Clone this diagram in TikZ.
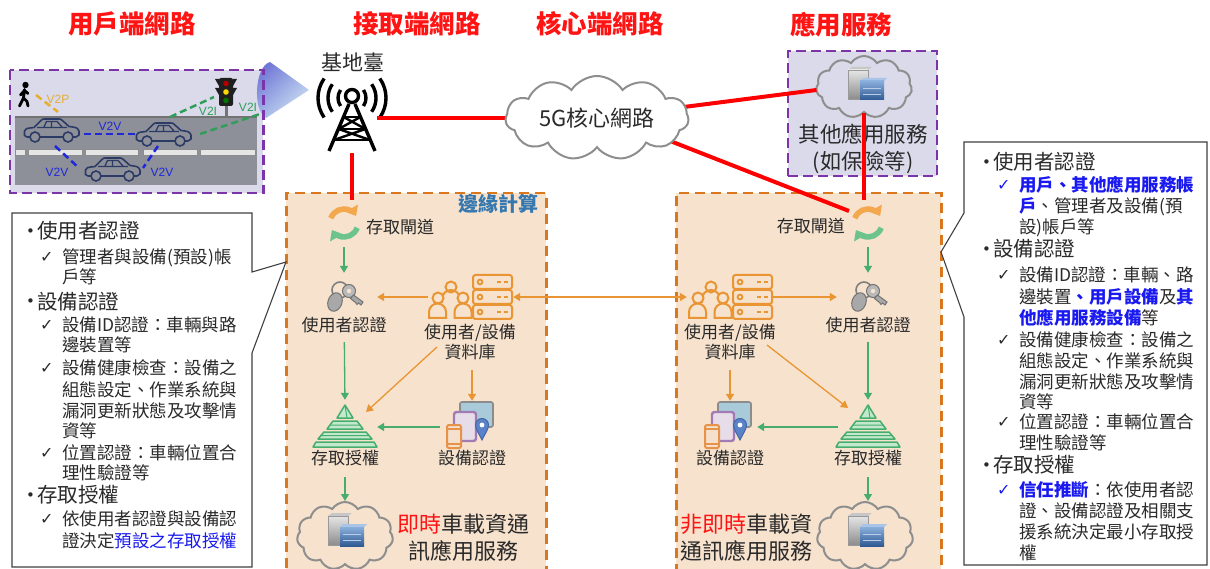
\documentclass[tikz,border=0pt]{standalone}
\usepackage{fontspec}
\setmainfont{Noto Sans CJK TC}
\newfontfamily\symfont{DejaVu Sans}
\newfontfamily\latinfont{Liberation Sans}
\usetikzlibrary{shapes.symbols,arrows.meta,calc,shadings}

\definecolor{titlered}{HTML}{FF1414}
\definecolor{purpleD}{HTML}{7B35A8}
\definecolor{lavender}{HTML}{DADAEB}
\definecolor{edgeO}{HTML}{D9781E}
\definecolor{peach}{HTML}{F6E2CD}
\definecolor{edgeBlue}{HTML}{3578B0}
\definecolor{roadgray}{HTML}{8E9099}
\definecolor{carnavy}{HTML}{2C3A66}
\definecolor{v2vblue}{HTML}{1E28D8}
\definecolor{v2igreen}{HTML}{2E9E58}
\definecolor{v2pyel}{HTML}{E6AE2E}
\definecolor{arrG}{HTML}{47AD6E}
\definecolor{arrO}{HTML}{E99533}
\definecolor{txtdark}{HTML}{2A2A2A}
\definecolor{hlblue}{HTML}{1A1AF0}
\definecolor{cloudgray}{HTML}{8E8E8E}
\definecolor{keygray}{HTML}{A8A8A8}
\definecolor{gwOr}{HTML}{F3A84E}
\definecolor{gwGr}{HTML}{6CC48C}
\definecolor{pyrL}{HTML}{C4E8CE}
\definecolor{pyrD}{HTML}{45AE6C}
\definecolor{beamA}{HTML}{5F5FCF}
\definecolor{beamB}{HTML}{9AAEE6}
\definecolor{beamC}{HTML}{E3F6F7}
\definecolor{devScreen}{HTML}{A9CAD8}
\definecolor{devTab}{HTML}{E6DDE8}
\definecolor{devTabE}{HTML}{A27BB5}
\definecolor{devPhone}{HTML}{F4E0CD}
\definecolor{devPhoneE}{HTML}{E69248}
\definecolor{pinF}{HTML}{5B82C9}
\definecolor{pinE}{HTML}{4267A8}
\definecolor{srvTop}{HTML}{A9C4E6}
\definecolor{srvHi}{HTML}{89AEDB}
\definecolor{srvLo}{HTML}{2F5A93}
\definecolor{srvLine}{HTML}{B8CCE8}

\tikzset{
  every node/.style={inner sep=0pt},
  ttl/.style={text=titlered, font=\fontsize{25.5}{25.5}\selectfont\bfseries},
  lbl/.style={text=txtdark, font=\fontsize{17}{20.5}\selectfont, align=center},
  biglbl/.style={text=txtdark, font=\fontsize{22}{27}\selectfont, align=center},
  icon/.style 2 args={inner sep=0pt, minimum width=#1pt, minimum height=#2pt},
  garrow/.style={draw=arrG, line width=1.3pt, -{Triangle[width=8pt,length=7pt]}},
  oarrow/.style={draw=arrO, line width=1.3pt, -{Triangle[width=8pt,length=7pt]}},
  redline/.style={draw=red, line width=4pt},
  edgebox/.style={draw=edgeO, fill=peach, line width=2.5pt, dash pattern=on 10pt off 6pt},
  scenefill/.style={fill=lavender},
  sceneborder/.style={draw=purpleD, line width=2.2pt, dash pattern=on 10pt off 5pt},
  appboxst/.style={draw=purpleD, fill=lavender, line width=2.2pt, dash pattern=on 10pt off 5pt},
  cloudnode/.style={cloud, cloud puffs=11, cloud puff arc=115, cloud ignores aspect, draw=cloudgray, line width=2pt},
  note/.style={draw=black!75, fill=white, line width=1.1pt},
  notehd/.style={anchor=west, text=txtdark, font=\fontsize{20.5}{20.5}\selectfont, text height=17pt, text depth=3pt},
  noteln/.style={anchor=west, text=txtdark, font=\fontsize{17.5}{17.5}\selectfont, text height=14.5pt, text depth=2pt},
  vlink/.style={line width=2.5pt, dash pattern=on 7pt off 4pt},
  vlbl/.style={font=\latinfont\fontsize{12}{12}\selectfont},
  % ---------- icons ----------
  vehicle/.pic={
    \draw[carnavy, line width=1.6pt, line join=round, line cap=round]
      (7,5) -- (4,5) -- (1.5,6.5) -- (1.5,11) .. controls (2.5,13.5) .. (11,14.5) -- (18,21.5)
      .. controls (19.5,23) .. (23,23) -- (34,23) .. controls (38,23) .. (40.5,20.5) -- (46,15.5)
      .. controls (54,14.5) .. (56,11) -- (56,7) -- (53,5) -- (50,5);
    \draw[carnavy, line width=1.6pt] (17,5) -- (40,5) (12,5) circle (5) (45,5) circle (5);
    \draw[carnavy, line width=1.3pt] (14,14.5) -- (44,14.5)
      (21,15) -- (23.5,20.5) -- (34,20.5) -- (39,15) (28.5,20.5) -- (28.5,14.5);
  },
  walker/.pic={
    \fill[black] (1.5,10) circle (3.2);
    \draw[black, line width=2.8pt, line cap=round, line join=round]
      (0.5,5.5) -- (-0.5,-3) -- (-4.5,-11) (-0.5,-3) -- (3,-6.5) -- (4,-11)
      (0.5,4.5) -- (-3.5,0) (0.5,4.5) -- (4,1.5);
  },
  signal/.pic={
    \fill[black!55] (-1.5,-14) rectangle (1.5,-25);
    \fill[black!88] (-11,13) -- (-7,13) -- (-7,6) -- cycle;
    \fill[black!88] (-11,4) -- (-7,4) -- (-7,-3) -- cycle;
    \fill[black!88] (11,13) -- (7,13) -- (7,6) -- cycle;
    \fill[black!88] (11,4) -- (7,4) -- (7,-3) -- cycle;
    \fill[black!88, rounded corners=2pt] (-7,-14) rectangle (7,14);
    \fill[red!70!black] (0,8.5) circle (2.8);
    \fill[yellow!75!orange] (0,0) circle (2.8);
    \fill[green!45!black] (0,-8.5) circle (2.8);
  },
  antennaicon/.pic={
    \foreach \r in {14,24,34}{
      \draw[black, line width=3.4pt] ([shift={(35:\r)}]0,17) arc[start angle=35,end angle=-35,radius=\r];
      \draw[black, line width=3.4pt] ([shift={(145:\r)}]0,17) arc[start angle=145,end angle=215,radius=\r];
    }
    \draw[black, line width=3.4pt] (0,19) circle (6.5);
    \draw[black, line width=3.4pt] (-23,-36) -- (-3,11) (23,-36) -- (3,11);
    \draw[black, line width=2.8pt] (-8.4,-2) -- (8.4,-2) (-13.4,-14) -- (13.4,-14) (-18,-25) -- (18,-25);
    \draw[black, line width=2.4pt] (-8.4,-2) -- (13.4,-14) (8.4,-2) -- (-13.4,-14)
      (-13.4,-14) -- (18,-25) (13.4,-14) -- (-18,-25);
  },
  gatewayicon/.pic={
    \draw[gwOr, line width=5.5pt, -{Triangle[width=14pt,length=9pt]}] (160:14) arc[start angle=160,end angle=30,radius=14];
    \draw[gwGr, line width=5.5pt, -{Triangle[width=14pt,length=9pt]}] (-20:14) arc[start angle=-20,end angle=-150,radius=14];
  },
  keyicon/.pic={
    \draw[black!50, line width=1.6pt] (-4,5) circle (8);
    \filldraw[fill=keygray, draw=black!55, line width=1pt, rotate around={-20:(-9,-7)}] (-9,-7) ellipse (7 and 9.5);
    \filldraw[fill=keygray!80, draw=black!55, line width=1pt] (5,4) circle (6.5);
    \fill[peach] (5,4) circle (2.2);
    \filldraw[fill=keygray, draw=black!55, line width=1pt] (9.5,0) -- (19,-7) -- (17,-10) -- (14.5,-8)
      -- (13,-9.5) -- (11.5,-7.5) -- (6.5,-3.5) -- cycle;
  },
  dbicon/.pic={
    \foreach \yy in {15,0,-15}{
      \draw[arrO, line width=2pt, rounded corners=2.5pt] (3,\yy-7) rectangle (42,\yy+7);
      \draw[arrO, line width=1.8pt] (10,\yy) circle (2.4);
      \draw[arrO, line width=2pt] (27,\yy) -- (31,\yy) (34,\yy) -- (38,\yy);
    }
    \draw[arrO, line width=2pt] (-19,10) circle (5.5);
    \draw[arrO, line width=2pt] (-28,-6) -- (-28,-2) arc[start angle=180,end angle=0,radius=9] -- (-10,-6);
    \filldraw[draw=arrO, fill=peach, line width=2pt] (-32,-1) circle (5.5);
    \filldraw[draw=arrO, fill=peach, line width=2pt] (-41,-21) -- (-41,-15) arc[start angle=180,end angle=0,radius=8.5] -- (-24,-21) -- cycle;
    \filldraw[draw=arrO, fill=peach, line width=2pt] (-7,-1) circle (5.5);
    \filldraw[draw=arrO, fill=peach, line width=2pt] (-15.5,-21) -- (-15.5,-15) arc[start angle=180,end angle=0,radius=8.5] -- (1.5,-21) -- cycle;
  },
  pyramidicon/.pic={
    \filldraw[draw=pyrD, fill=pyrL, line width=1.5pt, line join=round] (0,21) -- (-8,8) -- (8,8) -- cycle;
    \filldraw[draw=pyrD, fill=pyrL, line width=1.5pt, line join=round] (-12,5) -- (12,5) -- (18,-3) -- (-18,-3) -- cycle;
    \filldraw[draw=pyrD, fill=pyrL, line width=1.5pt, line join=round] (-21,-6) -- (21,-6) -- (27,-13) -- (-27,-13) -- cycle;
    \filldraw[draw=pyrD, fill=pyrL, line width=1.5pt, line join=round] (-29,-16) -- (29,-16) -- (32,-21) -- (-32,-21) -- cycle;
    \draw[pyrD, line width=1pt] (0,21) -- (2,8) (-15,1) -- (15,1) (-24,-9.5) -- (24,-9.5);
  },
  deviceicon/.pic={
    \filldraw[fill=devScreen, draw=black!45, line width=1.6pt, rounded corners=2pt] (-12,-3) rectangle (21,22);
    \filldraw[fill=devTab, draw=devTabE, line width=2.4pt, rounded corners=2.5pt] (-18,-17) rectangle (4,12);
    \filldraw[fill=devPhone, draw=devPhoneE, line width=2pt, rounded corners=2pt] (-25,-24) rectangle (-11,-1);
    \draw[devPhoneE, line width=1.2pt] (-25,-5) -- (-11,-5) (-25,-20) -- (-11,-20);
    \filldraw[fill=pinF, draw=pinE, line width=1pt]
      (10,-16) .. controls (6,-8) and (3.5,-5) .. (3.5,-1) arc[start angle=180,end angle=0,radius=6.5]
      .. controls (16.5,-5) and (14,-8) .. (10,-16) -- cycle;
    \fill[white] (10,-1) circle (2.4);
  },
  servericon/.pic={
    \fill[black!22] (-18,15) -- (-14,18) -- (6,18) -- (2,15) -- cycle;
    \shade[top color=black!10, bottom color=black!45] (-18,-14) rectangle (2,15);
    \draw[black!40, line width=0.6pt] (-18,-14) rectangle (2,15);
    \fill[srvTop] (-6,4) -- (-3,7) -- (21,7) -- (18,4) -- cycle;
    \shade[top color=srvHi, bottom color=srvLo] (-6,-15) rectangle (18,4);
    \draw[srvLine, line width=0.8pt] (-3,-3) -- (15,-3) (-3,-9) -- (15,-9);
  },
}

\newcommand\notehead[4]{\node[notehd] (#1) at (#2,-#3) {\makebox[11pt][l]{\raisebox{2pt}{\symfont\fontsize{15}{15}\selectfont •}}#4};}
\newcommand\notecheck[4]{\node[noteln] (#1) at (#2,-#3) {\makebox[22pt][l]{\raisebox{0.5pt}{\symfont\fontsize{16}{16}\selectfont ✓}}#4};}
\newcommand\notecheckb[4]{\node[noteln] (#1) at (#2,-#3) {\makebox[22pt][l]{\raisebox{0.5pt}{\color{hlblue}\symfont\fontsize{16}{16}\selectfont ✓}}#4};}
\newcommand\notecont[4]{\node[noteln] (#1) at (#2,-#3) {#4};}
\newcommand\hl[1]{{\color{hlblue}\bfseries #1}}

\begin{document}
\begin{tikzpicture}[x=1pt,y=1pt]
\useasboundingbox (0,0) rectangle (1210,-569);
\clip (0,0) rectangle (1210,-569);

% ---------- user network scene ----------
\node[scenefill, anchor=north west, minimum width=253pt, minimum height=123pt] (scene) at (10,-70) {};
\shade[upper left=beamA, upper right=beamB, lower left=beamB, lower right=beamC]
  (309,-90) -- (270,-62) .. controls (255,-66) and (252,-110) .. (266,-118) -- cycle;
\fill[roadgray] (15,-117) rectangle (257,-185);
\draw[black!55, line width=1.5pt] (15,-117) -- (257,-117);
\foreach \a/\b in {15/25,28/82,85/138,143/197,200/255}
  \filldraw[fill=white!90!black, draw=black!45, line width=0.6pt] (\a,-149) rectangle (\b,-155);
\pic at (23,-142) {vehicle};
\pic at (135,-146) {vehicle};
\pic at (84,-181) {vehicle};
\pic at (226,-92) {signal};
\pic at (24,-95) {walker};
\draw[vlink, v2vblue] (84,-134) -- (135,-134);
\draw[vlink, v2vblue] (55,-146) -- (79,-168);
\draw[vlink, v2vblue] (158,-146) -- (143,-168);
\draw[vlink, v2igreen] (170,-117) -- (214,-97);
\draw[vlink, v2igreen] (200,-134) -- (263,-113);
\draw[vlink, v2pyel] (36,-95) -- (58,-112);
\node[vlbl, text=v2pyel] (lv2p) at (58,-99) {V2P};
\node[vlbl, text=v2vblue] (lv2va) at (110,-126) {V2V};
\node[vlbl, text=v2vblue] (lv2vb) at (57,-172) {V2V};
\node[vlbl, text=v2vblue] (lv2vc) at (162,-172) {V2V};
\node[vlbl, text=v2igreen] (lv2ia) at (208,-111) {V2I};
\node[vlbl, text=v2igreen] (lv2ib) at (248,-107) {V2I};
\draw[sceneborder] (scene.north west) rectangle (scene.south east);

% ---------- section titles ----------
\node[ttl] (t1) at (132,-24) {用戶端網路};
\node[ttl] (t2) at (417,-24) {接取端網路};
\node[ttl] (t3) at (600,-24) {核心端網路};
\node[ttl] (t4) at (841,-25) {應用服務};

% ---------- edge computing areas ----------
\node[edgebox, anchor=north west, minimum width=260pt, minimum height=395pt] (edgeL) at (285,-192) {};
\node[edgebox, anchor=north west, minimum width=265pt, minimum height=395pt] (edgeR) at (675,-192) {};
\node[text=edgeBlue, font=\fontsize{20}{20}\selectfont\bfseries] (edgeT) at (498,-204) {邊緣計算};

% ---------- application service ----------
\node[appboxst, anchor=north west, minimum width=149pt, minimum height=125pt] (appbox) at (787,-50) {};
\node[cloudnode, minimum width=96pt, minimum height=62pt] (appc) at (864,-87) {};
\pic at (866,-85) {servericon};
\node[biglbl, font=\fontsize{21.5}{27}\selectfont] (appt) at (863,-149) {其他應用服務\\(如保險等)};

% ---------- base station and core ----------
\node[text=txtdark, font=\fontsize{21}{21}\selectfont] (bst) at (353,-62) {基地臺};
\node[icon={76}{76}] (bs) at (352,-115) {};
\pic at (bs) {antennaicon};
\draw[redline] ($(bs.center)+(25,-3)$) -- (597,-118);
\draw[redline] (637,-113) -- ($(appc.west)+(1,-3)$);
\node[icon={40}{40}] (gwR) at (868,-223) {};
\draw[redline] (637,-128) -- ($(gwR)+(-19,12)$);
\node[cloudnode, fill=white, minimum width=183pt, minimum height=84pt, font=\fontsize{22}{22}\selectfont, text=txtdark] (core) at (597,-118) {5G核心網路};

% ---------- left edge node contents ----------
\node[icon={40}{40}] (gwL) at (344,-223) {};
\pic at (gwL) {gatewayicon};
\node[lbl, anchor=west] (gwLt) at (366,-227) {存取閘道};
\node[icon={40}{36}] (uaL) at (344,-295) {};
\pic at (uaL) {keyicon};
\node[lbl] (uaLt) at (344,-325) {使用者認證};
\node[icon={82}{46}] (dbL) at (470,-297) {};
\pic at (dbL) {dbicon};
\node[lbl] (dbLt) at (470,-342) {使用者/設備\\資料庫};
\node[icon={62}{46}] (azL) at (345,-426) {};
\pic at (azL) {pyramidicon};
\node[lbl] (azLt) at (345,-458) {存取授權};
\node[icon={52}{46}] (daL) at (472,-424) {};
\pic at (daL) {deviceicon};
\node[lbl] (daLt) at (472,-458) {設備認證};
\node[cloudnode, minimum width=96pt, minimum height=68pt] (svL) at (345,-536) {};
\pic at (346,-531) {servericon};
\node[biglbl] (rtL) at (463,-538) {{\color{titlered}即時}車載資通\\訊應用服務};

% ---------- right edge node contents ----------
\pic at (gwR) {gatewayicon};
\node[lbl, anchor=east] (gwRt) at (845,-226) {存取閘道};
\node[icon={40}{36}] (uaR) at (868,-295) {};
\pic at (uaR) {keyicon};
\node[lbl] (uaRt) at (868,-325) {使用者認證};
\node[icon={82}{46}] (dbR) at (730,-297) {};
\pic at (dbR) {dbicon};
\node[lbl] (dbRt) at (730,-342) {使用者/設備\\資料庫};
\node[icon={62}{46}] (azR) at (868,-426) {};
\pic at (azR) {pyramidicon};
\node[lbl] (azRt) at (868,-458) {存取授權};
\node[icon={52}{46}] (daR) at (730,-424) {};
\pic at (daR) {deviceicon};
\node[lbl] (daRt) at (730,-458) {設備認證};
\node[cloudnode, minimum width=96pt, minimum height=68pt] (svR) at (865,-536) {};
\pic at (866,-531) {servericon};
\node[biglbl] (rtR) at (746,-538) {{\color{titlered}非即時}車載資\\通訊應用服務};

% ---------- flows, left ----------
\draw[garrow, shorten <=4pt, shorten >=4pt] (gwL.south) -- (uaL.north);
\draw[oarrow, shorten <=1pt, shorten >=13pt] (dbL.west) -- (uaL.east |- dbL.west);
\draw[oarrow, {Triangle[width=8pt,length=7pt]}-{Triangle[width=8pt,length=7pt]}, shorten <=2pt, shorten >=2pt] (dbL.east) -- (dbR.west);
\draw[garrow, shorten <=29pt, shorten >=3pt] (uaL.south) -- (azL.north);
\draw[oarrow] ($(dbL)+(-33,-50)$) -- ($(azL)+(21,14)$);
\draw[oarrow] ($(dbL.south)+(2,-50)$) -- (daL.north);
\draw[garrow] ($(daL.west)+(-6,-3)$) -- ($(azL.east)+(1,-1)$);
\draw[garrow, shorten <=28pt] (azL.south) -- (azL.south |- svL.north);

% ---------- flows, right ----------
\draw[garrow, shorten <=4pt, shorten >=4pt] (gwR.south) -- (uaR.north);
\draw[oarrow, shorten <=2pt, shorten >=11pt] (dbR.east) -- (uaR.west |- dbR.east);
\draw[garrow, shorten <=29pt, shorten >=3pt] (uaR.south) -- (azR.north);
\draw[oarrow] ($(dbR)+(37,-48)$) -- ($(azR)+(-20,18)$);
\draw[oarrow] ($(dbR.south)+(0,-50)$) -- (daR.north);
\draw[garrow] ($(azR.west)+(1,-1)$) -- ($(daR.east)+(1,-3)$);
\draw[garrow, shorten <=28pt] (azR.south) -- (azR.south |- svR.north);

% ---------- access links ----------
\draw[redline] (bs.south) -- ($(bs.south |- gwL.north)+(0,3)$);
\draw[redline] (appc.south) -- ($(appc.south |- gwR.north)+(0,3)$);

% ---------- left note ----------
\draw[note] (12,-213) -- (252,-213) -- (252,-272) -- (286,-262) -- (252,-353) -- (252,-567) -- (12,-567) -- cycle;
\notehead{la1}{26}{232}{使用者認證}
\notecheck{la2}{40}{257}{管理者與設備(預設)帳}
\notecont{la3}{62}{277}{戶等}
\notehead{la4}{26}{302}{設備認證}
\notecheck{la5}{40}{325}{設備ID認證：車輛與路}
\notecont{la6}{62}{345}{邊裝置等}
\notecheck{la7}{40}{368}{設備健康檢查：設備之}
\notecont{la8}{62}{390}{組態設定、作業系統與}
\notecont{la9}{62}{411}{漏洞更新狀態及攻擊情}
\notecont{la10}{62}{431}{資等}
\notecheck{la11}{40}{453}{位置認證：車輛位置合}
\notecont{la12}{62}{473}{理性驗證等}
\notehead{la13}{26}{495}{存取授權}
\notecheck{la14}{40}{519}{依使用者認證與設備認}
\notecont{la15}{62}{541}{證決定{\color{hlblue}預設之存取授權}}

% ---------- right note ----------
\draw[note] (964,-142) -- (1207,-142) -- (1207,-565) -- (964,-565) -- (964,-317) -- (941,-252) -- (964,-213) -- cycle;
\notehead{ra1}{982}{163}{使用者認證}
\notecheckb{ra2}{997}{185}{\hl{用戶、其他應用服務帳}}
\notecont{ra3}{1019}{206}{\hl{戶}、管理者及設備(預}
\notecont{ra4}{1019}{227}{設)帳戶等}
\notehead{ra5}{982}{250}{設備認證}
\notecheck{ra6}{997}{275}{設備ID認證：車輛、路}
\notecont{ra7}{1019}{297}{邊裝置\hl{、用戶設備}及\hl{其}}
\notecont{ra8}{1019}{318}{\hl{他應用服務設備}等}
\notecheck{ra9}{997}{340}{設備健康檢查：設備之}
\notecont{ra10}{1019}{361}{組態設定、作業系統與}
\notecont{ra11}{1019}{382}{漏洞更新狀態及攻擊情}
\notecont{ra12}{1019}{402}{資等}
\notecheck{ra13}{997}{422}{位置認證：車輛位置合}
\notecont{ra14}{1019}{443}{理性驗證等}
\notehead{ra15}{982}{465}{存取授權}
\notecheckb{ra16}{997}{490}{\hl{信任推斷}：依使用者認}
\notecont{ra17}{1019}{511}{證、設備認證及相關支}
\notecont{ra18}{1019}{532}{援系統決定最小存取授}
\notecont{ra19}{1019}{553}{權}
\end{tikzpicture}
\end{document}
